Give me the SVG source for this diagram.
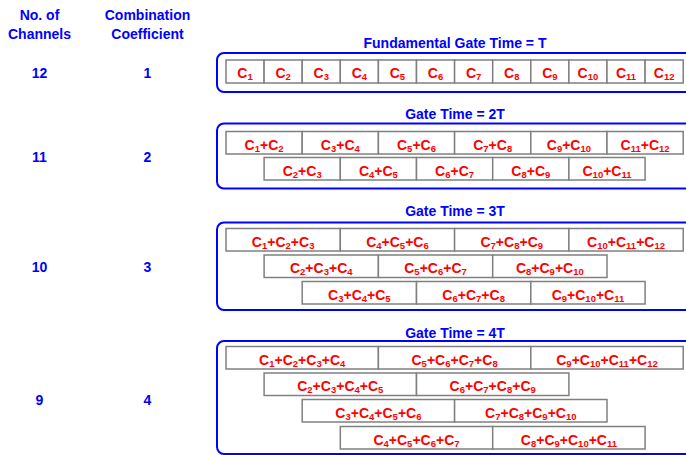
<svg xmlns="http://www.w3.org/2000/svg" width="686" height="455" viewBox="0 0 686 455">
<style>
.h{font-family:"Liberation Sans",Arial,sans-serif;font-weight:bold;font-size:14px;fill:#0000FF;text-anchor:middle}
.c{font-family:"Liberation Sans",Arial,sans-serif;font-weight:bold;font-size:14px;fill:#FF0000;text-anchor:middle}
.s{font-size:9.5px}
.cell{fill:#FFFFFF;stroke:#808080;stroke-width:1.5}
.frame{fill:none;stroke:#0000FF;stroke-width:2}
</style>
<rect width="686" height="455" fill="#FFFFFF"/>
<g id="headers">
<text class="h" x="39.5" y="20">No. of</text>
<text class="h" x="39.5" y="39">Channels</text>
<text class="h" x="147.5" y="20">Combination</text>
<text class="h" x="147.5" y="39">Coefficient</text>
</g>
<g id="row-labels">
<text class="h" x="39.5" y="78">12</text>
<text class="h" x="147.5" y="78">1</text>
<text class="h" x="39.5" y="162">11</text>
<text class="h" x="147.5" y="162">2</text>
<text class="h" x="39.5" y="272">10</text>
<text class="h" x="147.5" y="272">3</text>
<text class="h" x="39.5" y="404.5">9</text>
<text class="h" x="147.5" y="404.5">4</text>
</g>
<g id="frames">
<rect class="frame" x="217" y="53" width="480" height="39" rx="7"/>
<rect class="frame" x="217" y="123.5" width="480" height="65" rx="7"/>
<rect class="frame" x="217" y="222.5" width="480" height="87.5" rx="7"/>
<rect class="frame" x="217" y="341" width="480" height="113" rx="7"/>
<text class="h" x="455" y="48.3">Fundamental Gate Time = T</text>
<text class="h" x="455" y="119">Gate Time = 2T</text>
<text class="h" x="455" y="215.7">Gate Time = 3T</text>
<text class="h" x="455" y="338">Gate Time = 4T</text>
</g>
<g id="connectors"></g>
<!-- Row T -->
<g id="t1"><rect class="cell" x="226" y="60" width="38.1" height="23"/><text class="c" x="245.05" y="78">C<tspan class="s" dy="2">1</tspan></text></g>
<g id="t2"><rect class="cell" x="264.1" y="60" width="38.1" height="23"/><text class="c" x="283.15" y="78">C<tspan class="s" dy="2">2</tspan></text></g>
<g id="t3"><rect class="cell" x="302.2" y="60" width="38.1" height="23"/><text class="c" x="321.25" y="78">C<tspan class="s" dy="2">3</tspan></text></g>
<g id="t4"><rect class="cell" x="340.3" y="60" width="38.1" height="23"/><text class="c" x="359.35" y="78">C<tspan class="s" dy="2">4</tspan></text></g>
<g id="t5"><rect class="cell" x="378.4" y="60" width="38.1" height="23"/><text class="c" x="397.45" y="78">C<tspan class="s" dy="2">5</tspan></text></g>
<g id="t6"><rect class="cell" x="416.5" y="60" width="38.1" height="23"/><text class="c" x="435.55" y="78">C<tspan class="s" dy="2">6</tspan></text></g>
<g id="t7"><rect class="cell" x="454.6" y="60" width="38.1" height="23"/><text class="c" x="473.65" y="78">C<tspan class="s" dy="2">7</tspan></text></g>
<g id="t8"><rect class="cell" x="492.7" y="60" width="38.1" height="23"/><text class="c" x="511.75" y="78">C<tspan class="s" dy="2">8</tspan></text></g>
<g id="t9"><rect class="cell" x="530.8" y="60" width="38.1" height="23"/><text class="c" x="549.85" y="78">C<tspan class="s" dy="2">9</tspan></text></g>
<g id="t10"><rect class="cell" x="568.9" y="60" width="38.1" height="23"/><text class="c" x="587.95" y="78">C<tspan class="s" dy="2">10</tspan></text></g>
<g id="t11"><rect class="cell" x="607" y="60" width="38.1" height="23"/><text class="c" x="626.05" y="78">C<tspan class="s" dy="2">11</tspan></text></g>
<g id="t12"><rect class="cell" x="645.1" y="60" width="38.1" height="23"/><text class="c" x="664.15" y="78">C<tspan class="s" dy="2">12</tspan></text></g>
<!-- Row 2T -->
<g id="d1"><rect class="cell" x="226" y="131.5" width="76.2" height="22.5"/><text class="c" x="264.1" y="149.5">C<tspan class="s" dy="2">1</tspan><tspan dy="-2">+C</tspan><tspan class="s" dy="2">2</tspan></text></g>
<g id="d3"><rect class="cell" x="302.2" y="131.5" width="76.2" height="22.5"/><text class="c" x="340.3" y="149.5">C<tspan class="s" dy="2">3</tspan><tspan dy="-2">+C</tspan><tspan class="s" dy="2">4</tspan></text></g>
<g id="d5"><rect class="cell" x="378.4" y="131.5" width="76.2" height="22.5"/><text class="c" x="416.5" y="149.5">C<tspan class="s" dy="2">5</tspan><tspan dy="-2">+C</tspan><tspan class="s" dy="2">6</tspan></text></g>
<g id="d7"><rect class="cell" x="454.6" y="131.5" width="76.2" height="22.5"/><text class="c" x="492.7" y="149.5">C<tspan class="s" dy="2">7</tspan><tspan dy="-2">+C</tspan><tspan class="s" dy="2">8</tspan></text></g>
<g id="d9"><rect class="cell" x="530.8" y="131.5" width="76.2" height="22.5"/><text class="c" x="568.9" y="149.5">C<tspan class="s" dy="2">9</tspan><tspan dy="-2">+C</tspan><tspan class="s" dy="2">10</tspan></text></g>
<g id="d11"><rect class="cell" x="607" y="131.5" width="76.2" height="22.5"/><text class="c" x="645.1" y="149.5">C<tspan class="s" dy="2">11</tspan><tspan dy="-2">+C</tspan><tspan class="s" dy="2">12</tspan></text></g>
<g id="d2"><rect class="cell" x="264.1" y="157.5" width="76.2" height="22.5"/><text class="c" x="302.2" y="175.5">C<tspan class="s" dy="2">2</tspan><tspan dy="-2">+C</tspan><tspan class="s" dy="2">3</tspan></text></g>
<g id="d4"><rect class="cell" x="340.3" y="157.5" width="76.2" height="22.5"/><text class="c" x="378.4" y="175.5">C<tspan class="s" dy="2">4</tspan><tspan dy="-2">+C</tspan><tspan class="s" dy="2">5</tspan></text></g>
<g id="d6"><rect class="cell" x="416.5" y="157.5" width="76.2" height="22.5"/><text class="c" x="454.6" y="175.5">C<tspan class="s" dy="2">6</tspan><tspan dy="-2">+C</tspan><tspan class="s" dy="2">7</tspan></text></g>
<g id="d8"><rect class="cell" x="492.7" y="157.5" width="76.2" height="22.5"/><text class="c" x="530.8" y="175.5">C<tspan class="s" dy="2">8</tspan><tspan dy="-2">+C</tspan><tspan class="s" dy="2">9</tspan></text></g>
<g id="d10"><rect class="cell" x="568.9" y="157.5" width="76.2" height="22.5"/><text class="c" x="607" y="175.5">C<tspan class="s" dy="2">10</tspan><tspan dy="-2">+C</tspan><tspan class="s" dy="2">11</tspan></text></g>
<!-- Row 3T -->
<g id="r1"><rect class="cell" x="226" y="228.5" width="114.3" height="22.5"/><text class="c" x="283.15" y="246.5">C<tspan class="s" dy="2">1</tspan><tspan dy="-2">+C</tspan><tspan class="s" dy="2">2</tspan><tspan dy="-2">+C</tspan><tspan class="s" dy="2">3</tspan></text></g>
<g id="r4"><rect class="cell" x="340.3" y="228.5" width="114.3" height="22.5"/><text class="c" x="397.45" y="246.5">C<tspan class="s" dy="2">4</tspan><tspan dy="-2">+C</tspan><tspan class="s" dy="2">5</tspan><tspan dy="-2">+C</tspan><tspan class="s" dy="2">6</tspan></text></g>
<g id="r7"><rect class="cell" x="454.6" y="228.5" width="114.3" height="22.5"/><text class="c" x="511.75" y="246.5">C<tspan class="s" dy="2">7</tspan><tspan dy="-2">+C</tspan><tspan class="s" dy="2">8</tspan><tspan dy="-2">+C</tspan><tspan class="s" dy="2">9</tspan></text></g>
<g id="r10"><rect class="cell" x="568.9" y="228.5" width="114.3" height="22.5"/><text class="c" x="626.05" y="246.5">C<tspan class="s" dy="2">10</tspan><tspan dy="-2">+C</tspan><tspan class="s" dy="2">11</tspan><tspan dy="-2">+C</tspan><tspan class="s" dy="2">12</tspan></text></g>
<g id="r2"><rect class="cell" x="264.1" y="255" width="114.3" height="22.5"/><text class="c" x="321.25" y="273">C<tspan class="s" dy="2">2</tspan><tspan dy="-2">+C</tspan><tspan class="s" dy="2">3</tspan><tspan dy="-2">+C</tspan><tspan class="s" dy="2">4</tspan></text></g>
<g id="r5"><rect class="cell" x="378.4" y="255" width="114.3" height="22.5"/><text class="c" x="435.55" y="273">C<tspan class="s" dy="2">5</tspan><tspan dy="-2">+C</tspan><tspan class="s" dy="2">6</tspan><tspan dy="-2">+C</tspan><tspan class="s" dy="2">7</tspan></text></g>
<g id="r8"><rect class="cell" x="492.7" y="255" width="114.3" height="22.5"/><text class="c" x="549.85" y="273">C<tspan class="s" dy="2">8</tspan><tspan dy="-2">+C</tspan><tspan class="s" dy="2">9</tspan><tspan dy="-2">+C</tspan><tspan class="s" dy="2">10</tspan></text></g>
<g id="r3"><rect class="cell" x="302.2" y="281.5" width="114.3" height="22.5"/><text class="c" x="359.35" y="299.5">C<tspan class="s" dy="2">3</tspan><tspan dy="-2">+C</tspan><tspan class="s" dy="2">4</tspan><tspan dy="-2">+C</tspan><tspan class="s" dy="2">5</tspan></text></g>
<g id="r6"><rect class="cell" x="416.5" y="281.5" width="114.3" height="22.5"/><text class="c" x="473.65" y="299.5">C<tspan class="s" dy="2">6</tspan><tspan dy="-2">+C</tspan><tspan class="s" dy="2">7</tspan><tspan dy="-2">+C</tspan><tspan class="s" dy="2">8</tspan></text></g>
<g id="r9"><rect class="cell" x="530.8" y="281.5" width="114.3" height="22.5"/><text class="c" x="587.95" y="299.5">C<tspan class="s" dy="2">9</tspan><tspan dy="-2">+C</tspan><tspan class="s" dy="2">10</tspan><tspan dy="-2">+C</tspan><tspan class="s" dy="2">11</tspan></text></g>
<!-- Row 4T -->
<g id="q1"><rect class="cell" x="226" y="346.5" width="152.4" height="22.5"/><text class="c" x="302.2" y="364.5">C<tspan class="s" dy="2">1</tspan><tspan dy="-2">+C</tspan><tspan class="s" dy="2">2</tspan><tspan dy="-2">+C</tspan><tspan class="s" dy="2">3</tspan><tspan dy="-2">+C</tspan><tspan class="s" dy="2">4</tspan></text></g>
<g id="q5"><rect class="cell" x="378.4" y="346.5" width="152.4" height="22.5"/><text class="c" x="454.6" y="364.5">C<tspan class="s" dy="2">5</tspan><tspan dy="-2">+C</tspan><tspan class="s" dy="2">6</tspan><tspan dy="-2">+C</tspan><tspan class="s" dy="2">7</tspan><tspan dy="-2">+C</tspan><tspan class="s" dy="2">8</tspan></text></g>
<g id="q9"><rect class="cell" x="530.8" y="346.5" width="152.4" height="22.5"/><text class="c" x="607" y="364.5">C<tspan class="s" dy="2">9</tspan><tspan dy="-2">+C</tspan><tspan class="s" dy="2">10</tspan><tspan dy="-2">+C</tspan><tspan class="s" dy="2">11</tspan><tspan dy="-2">+C</tspan><tspan class="s" dy="2">12</tspan></text></g>
<g id="q2"><rect class="cell" x="264.1" y="373" width="152.4" height="22.5"/><text class="c" x="340.3" y="391">C<tspan class="s" dy="2">2</tspan><tspan dy="-2">+C</tspan><tspan class="s" dy="2">3</tspan><tspan dy="-2">+C</tspan><tspan class="s" dy="2">4</tspan><tspan dy="-2">+C</tspan><tspan class="s" dy="2">5</tspan></text></g>
<g id="q6"><rect class="cell" x="416.5" y="373" width="152.4" height="22.5"/><text class="c" x="492.7" y="391">C<tspan class="s" dy="2">6</tspan><tspan dy="-2">+C</tspan><tspan class="s" dy="2">7</tspan><tspan dy="-2">+C</tspan><tspan class="s" dy="2">8</tspan><tspan dy="-2">+C</tspan><tspan class="s" dy="2">9</tspan></text></g>
<g id="q3"><rect class="cell" x="302.2" y="399.5" width="152.4" height="22.5"/><text class="c" x="378.4" y="417.5">C<tspan class="s" dy="2">3</tspan><tspan dy="-2">+C</tspan><tspan class="s" dy="2">4</tspan><tspan dy="-2">+C</tspan><tspan class="s" dy="2">5</tspan><tspan dy="-2">+C</tspan><tspan class="s" dy="2">6</tspan></text></g>
<g id="q7"><rect class="cell" x="454.6" y="399.5" width="152.4" height="22.5"/><text class="c" x="530.8" y="417.5">C<tspan class="s" dy="2">7</tspan><tspan dy="-2">+C</tspan><tspan class="s" dy="2">8</tspan><tspan dy="-2">+C</tspan><tspan class="s" dy="2">9</tspan><tspan dy="-2">+C</tspan><tspan class="s" dy="2">10</tspan></text></g>
<g id="q4"><rect class="cell" x="340.3" y="426.5" width="152.4" height="22.5"/><text class="c" x="416.5" y="444.5">C<tspan class="s" dy="2">4</tspan><tspan dy="-2">+C</tspan><tspan class="s" dy="2">5</tspan><tspan dy="-2">+C</tspan><tspan class="s" dy="2">6</tspan><tspan dy="-2">+C</tspan><tspan class="s" dy="2">7</tspan></text></g>
<g id="q8"><rect class="cell" x="492.7" y="426.5" width="152.4" height="22.5"/><text class="c" x="568.9" y="444.5">C<tspan class="s" dy="2">8</tspan><tspan dy="-2">+C</tspan><tspan class="s" dy="2">9</tspan><tspan dy="-2">+C</tspan><tspan class="s" dy="2">10</tspan><tspan dy="-2">+C</tspan><tspan class="s" dy="2">11</tspan></text></g>
</svg>
